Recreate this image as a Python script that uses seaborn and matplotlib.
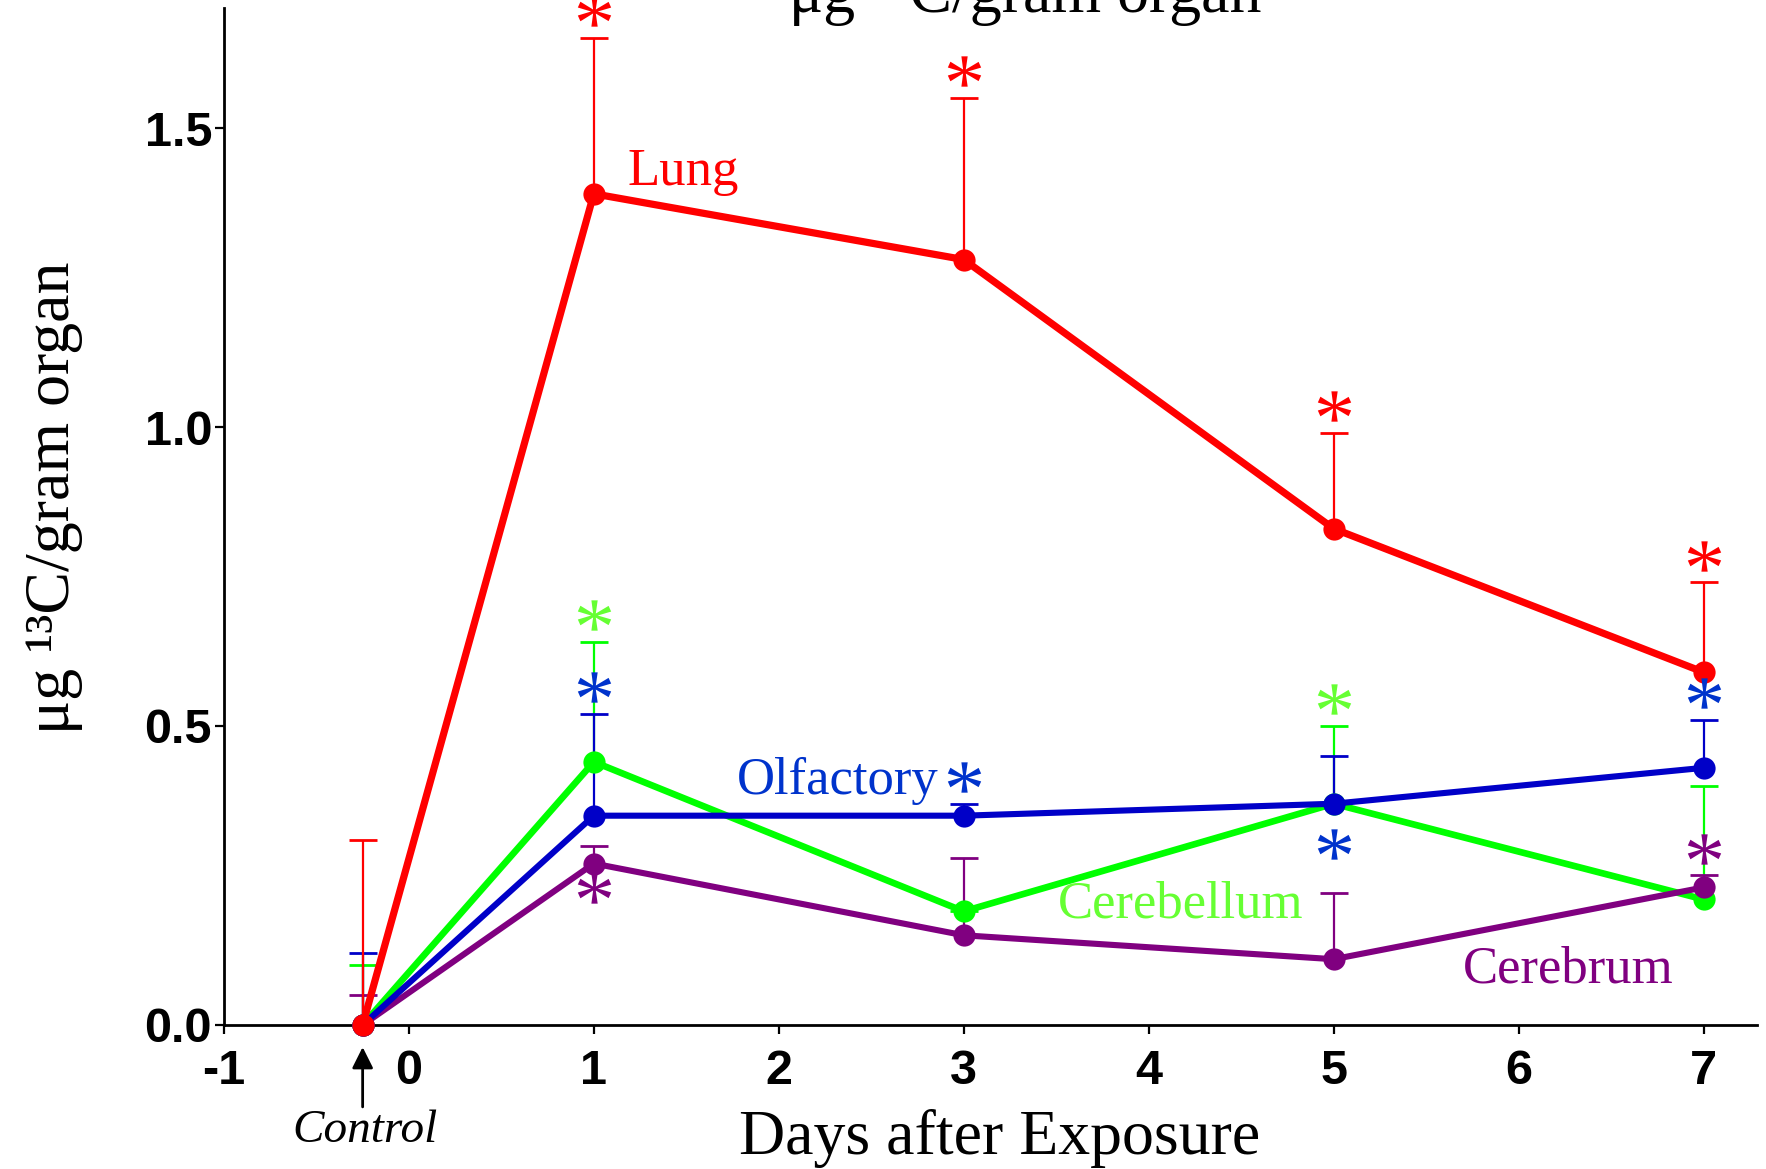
import numpy as np
import pandas as pd
import matplotlib
matplotlib.use("Agg")
import matplotlib.pyplot as plt
import seaborn as sns

# ---- data -------------------------------------------------------------
organs = ["Cerebellum", "Cerebrum", "Olfactory", "Lung"]          # drawing order
days = [-0.25, 1, 3, 5, 7]                                          # -0.25 = control group
means = {
    "Lung":       [0.0, 1.39, 1.28, 0.83, 0.59],
    "Olfactory":  [0.0, 0.35, 0.35, 0.37, 0.43],
    "Cerebellum": [0.0, 0.44, 0.19, 0.37, 0.21],
    "Cerebrum":   [0.0, 0.27, 0.15, 0.11, 0.23],
}
upper = {  # top of the (one-sided) error bars
    "Lung":       [0.31, 1.65, 1.55, 0.99, 0.74],
    "Olfactory":  [0.12, 0.52, 0.37, 0.45, 0.51],
    "Cerebellum": [0.10, 0.64, 0.19, 0.50, 0.40],
    "Cerebrum":   [0.05, 0.30, 0.28, 0.22, 0.25],
}
# significance marks: (organ, day, side)
significance = [
    ("Lung", 1, "above"), ("Lung", 3, "above"), ("Lung", 5, "above"), ("Lung", 7, "above"),
    ("Cerebellum", 1, "above"), ("Cerebellum", 5, "above"),
    ("Olfactory", 1, "above"), ("Olfactory", 3, "above"), ("Olfactory", 7, "above"),
    ("Olfactory", 5, "below"),
    ("Cerebrum", 1, "below"), ("Cerebrum", 7, "above"),
]
xticks = [-1, 0, 1, 2, 3, 4, 5, 6, 7]
yticks = [0.0, 0.5, 1.0, 1.5]

# ---- styling ------------------------------------------------------------
line_colors = {"Lung": "#ff0000", "Olfactory": "#0000c8",
               "Cerebellum": "#00ff00", "Cerebrum": "#800080"}
text_colors = {"Lung": "#ff0000", "Olfactory": "#0033cc",
               "Cerebellum": "#66ff33", "Cerebrum": "#800080"}
line_widths = {"Lung": 5.2, "Olfactory": 4.4, "Cerebellum": 4.8, "Cerebrum": 4.4}
label_pos = {"Lung": (1.18, 1.405), "Olfactory": (1.775, 0.387),
             "Cerebellum": (3.51, 0.179), "Cerebrum": (5.70, 0.071)}
below_offset = {("Olfactory", 5): 0.068, ("Cerebrum", 1): 0.041}

sns.set_theme(style="white")
plt.rcParams["font.family"] = ["Liberation Serif", "DejaVu Serif"]
plt.rcParams["mathtext.fontset"] = "custom"
plt.rcParams["mathtext.rm"] = "Liberation Serif"
plt.rcParams["mathtext.it"] = "Liberation Serif:italic"
for key in ("text.color", "axes.labelcolor", "xtick.color", "ytick.color",
            "axes.edgecolor"):
    plt.rcParams[key] = "black"

df = pd.DataFrame([
    {"organ": o, "day": d, "value": v}
    for o in organs for d, v in zip(days, means[o])
])

fig = plt.figure(figsize=(17.66, 11.69), dpi=100)
ax = fig.add_axes([0.1268, 0.1232, 0.8682, 0.8696])

for o in organs:
    sub = df[df.organ == o]
    _, caps, _ = ax.errorbar(
        sub["day"], sub["value"],
        yerr=[np.zeros(len(days)), np.array(upper[o]) - np.array(means[o])],
        fmt="none", ecolor=line_colors[o], elinewidth=1.6,
        capsize=10, capthick=2.0, clip_on=False, zorder=2)
    caps[0].remove()  # only the upper cap is drawn
    sns.lineplot(data=sub, x="day", y="value", color=line_colors[o],
                 linewidth=line_widths[o], marker="o", markersize=16,
                 markeredgewidth=0, ax=ax, legend=False, sort=False, zorder=3)

for ln in ax.lines:
    ln.set_clip_on(False)

# significance asterisks
for o, d, side in significance:
    i = days.index(d)
    if side == "above":
        y = upper[o][i] + 0.045
    else:
        y = means[o][i] - below_offset[(o, d)]
    ax.plot([d], [y], linestyle="none", marker=r"$*$", markersize=24,
            color=text_colors[o], markeredgewidth=0, clip_on=False, zorder=4)

# series labels
for o in organs:
    x, y = label_pos[o]
    ax.text(x, y, o, color=text_colors[o], fontsize=38, ha="left",
            va="baseline", family="Liberation Serif")

# control annotation
ax.annotate("", xy=(-0.25, -0.037), xytext=(-0.25, -0.137),
            arrowprops=dict(arrowstyle="-|>", color="black", lw=2,
                            mutation_scale=32, shrinkA=0, shrinkB=0),
            annotation_clip=False)
ax.text(-0.237, -0.177, "Control", fontsize=34, style="italic", color="black",
        ha="center", va="center", family="Liberation Serif")

# axes
ax.set_xlim(-1, 7.29)
ax.set_ylim(0, 1.70)
ax.set_xticks(xticks)
ax.set_yticks(yticks)
ax.set_xticklabels([str(t) for t in xticks])
ax.set_yticklabels([f"{t:.1f}" for t in yticks])
for lab in ax.get_xticklabels() + ax.get_yticklabels():
    lab.set_family("Liberation Sans")
    lab.set_fontweight("bold")
    lab.set_fontsize(35)
    lab.set_color("black")
ax.tick_params(axis="x", direction="out", length=6.5, width=1.6, pad=11, colors="black")
ax.tick_params(axis="y", direction="out", length=6.5, width=1.6, pad=2, colors="black")
ax.tick_params(bottom=True, left=True)
sns.despine(ax=ax)
for s in ("left", "bottom"):
    ax.spines[s].set_linewidth(2)
    ax.spines[s].set_color("black")

ax.set_xlabel("Days after Exposure", fontsize=46, va="center", color="black")
ax.set_ylabel("μg ¹³C/gram organ", fontsize=46, va="center", color="black")
ax.xaxis.set_label_coords(0.506, -0.112)
ax.yaxis.set_label_coords(-0.111, 0.519)

fig.text(0.5805, 0.9897, "μg ¹³C/gram organ", fontsize=46, ha="center",
         va="baseline", color="black")

fig.savefig("out.png", dpi=100)
